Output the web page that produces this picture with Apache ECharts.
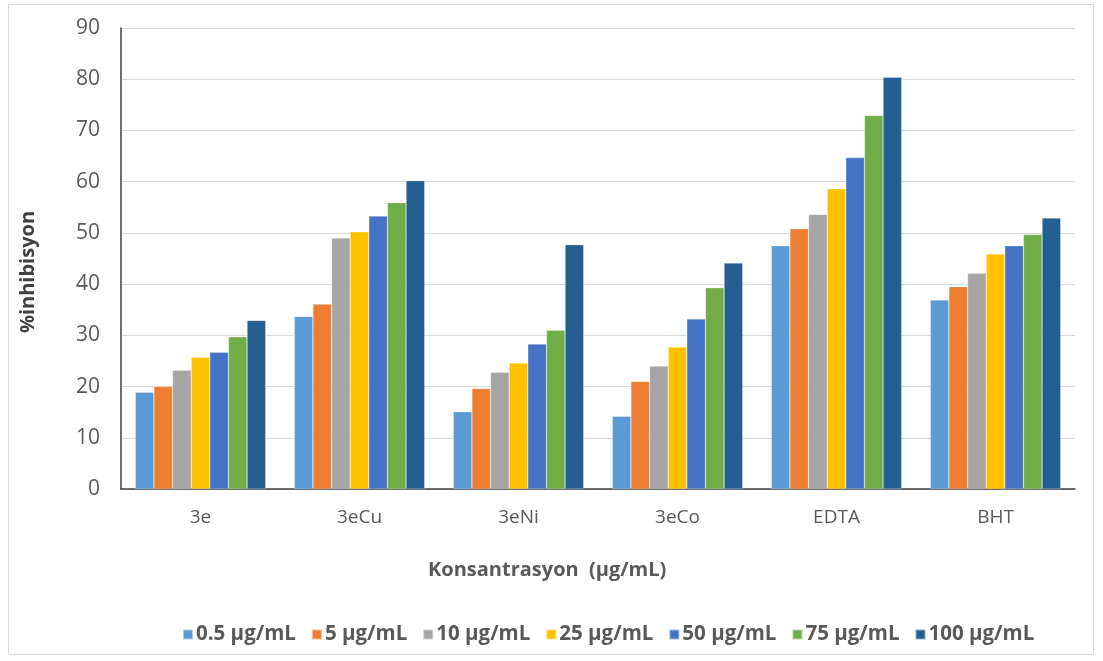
<!DOCTYPE html>
<html><head><meta charset="utf-8">
<script src="https://cdn.jsdelivr.net/npm/echarts@6/dist/echarts.min.js"></script>
<style>
html,body{margin:0;padding:0;background:#fff;}
#frame{position:absolute;left:8px;top:4px;width:1086px;height:651px;border:1px solid #d9d9d9;box-sizing:border-box;}
#c{width:1103px;height:661px;position:absolute;left:0;top:0;}
</style></head><body>
<div id="frame"></div>
<div id="c"></div>
<script>
const categories = ['3e','3eCu','3eNi','3eCo','EDTA','BHT'];
const seriesNames = ['0.5 µg/mL','5 µg/mL','10 µg/mL','25 µg/mL','50 µg/mL','75 µg/mL','100 µg/mL'];
const s05  = [18.9, 33.7, 15.1, 14.2, 47.5, 36.9];
const s5   = [20.0, 36.1, 19.6, 21.0, 50.8, 39.5];
const s10  = [23.2, 49.0, 22.8, 24.0, 53.6, 42.1];
const s25  = [25.7, 50.2, 24.6, 27.7, 58.6, 45.9];
const s50  = [26.7, 53.3, 28.3, 33.2, 64.7, 47.5];
const s75  = [29.7, 55.9, 31.0, 39.3, 72.9, 49.7];
const s100 = [32.9, 60.2, 47.7, 44.1, 80.4, 52.9];
const xTitle = 'Konsantrasyon  (µg/mL)';
const yTitle = '%inhibisyon';
const colors = ['#5B9BD5','#ED7D31','#A5A5A5','#FFC000','#4472C4','#70AD47','#255E91'];
const allData = [s05,s5,s10,s25,s50,s75,s100];
const font = '"Open Sans", sans-serif';
const chart = echarts.init(document.getElementById('c'), null, {renderer:'canvas'});
chart.setOption({
  animation:false,
  grid:{left:121, right:28, top:28, bottom:172, containLabel:false},
  legend:{
    top:619, left:177,
    itemWidth:10, itemHeight:10, itemGap:15,
    icon:'rect',
    textStyle:{color:'#595959', fontSize:20.5, fontWeight:'bold', fontFamily:font, padding:[0,0,0,-2]},
    data:seriesNames
  },
  graphic:[
    {type:'text', left:428, top:560, style:{text:xTitle, fill:'#595959', font:'bold 20px "Open Sans", sans-serif'}},
    {type:'text', x:28, y:272, rotation:Math.PI/2, style:{text:yTitle, fill:'#404040', font:'bold 20px "Open Sans", sans-serif', align:'center', verticalAlign:'middle'}}
  ],
  xAxis:{
    type:'category', data:categories,
    axisLine:{lineStyle:{color:'#404040', width:1.5}},
    axisTick:{show:false},
    axisLabel:{color:'#595959', fontSize:19, margin:19, fontFamily:font}
  },
  yAxis:{
    type:'value', min:0, max:90, interval:10,
    axisLine:{show:true, lineStyle:{color:'#404040', width:1.5}},
    axisTick:{show:false},
    splitLine:{lineStyle:{color:'#D9D9D9', width:1}},
    axisLabel:{color:'#595959', fontSize:21, margin:21, fontFamily:font}
  },
  series: seriesNames.map((n,i)=>({
    name:n, type:'bar', data:allData[i],
    barGap:'0%', barCategoryGap:'18%',
    itemStyle:{color:colors[i], borderColor:'rgba(255,255,255,0.5)', borderWidth:0.5}
  }))
});
</script>
</body></html>
